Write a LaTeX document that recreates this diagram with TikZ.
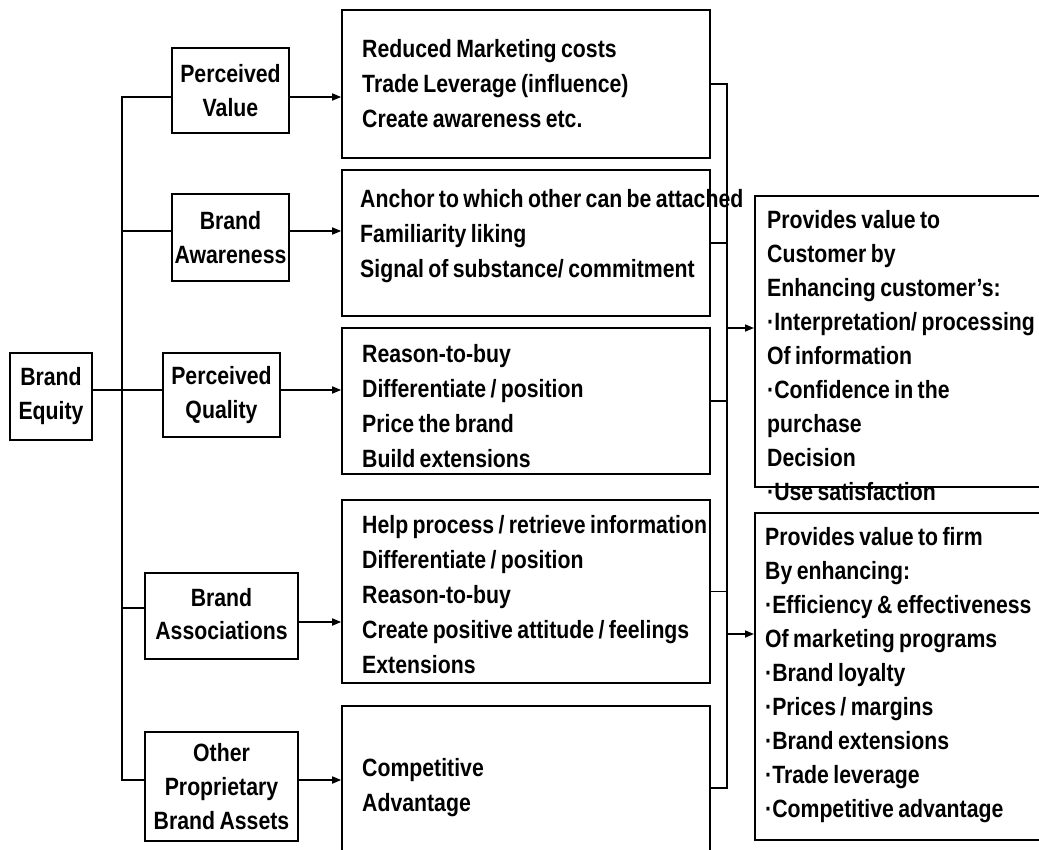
\documentclass[tikz,border=0pt]{standalone}
\usepackage{fontspec}
\setmainfont{Liberation Sans}[FakeStretch=0.85,WordSpace=0.75]
\usetikzlibrary{arrows.meta}
\begin{document}
\begin{tikzpicture}[x=1pt,y=-1pt,
  txt/.style={font=\fontsize{25}{34}\selectfont\bfseries},
  box/.style={draw, line width=1.6pt, inner sep=0pt, align=center, txt},
  mbox/.style={draw, line width=1.6pt, inner sep=0pt, minimum width=368pt},
  mtext/.style={inner sep=0pt, align=left, anchor=west, font=\fontsize{25}{35}\selectfont\bfseries},
  rtext/.style={inner sep=0pt, align=left, txt},
  ln/.style={line width=1.6pt},
  arr/.style={line width=1.6pt, -{Triangle[length=9pt,width=7pt]}}]
\useasboundingbox (0,0) rectangle (1039,849);
\clip (0,0) rectangle (1039,849);
% left boxes
\node[box, minimum width=82pt, minimum height=87pt] (be) at (51,396.5) {Brand\\Equity};
\node[box, minimum width=117pt, minimum height=85pt] (pv) at (230.5,90.5) {Perceived\\Value};
\node[box, minimum width=117pt, minimum height=87pt] (ba) at (230.5,237.5) {Brand\\Awareness};
\node[box, minimum width=117pt, minimum height=84pt] (pq) at (221.5,395) {Perceived\\Quality};
\node[box, minimum width=153pt, minimum height=86pt] (bas) at (221.5,616) {\raisebox{10pt}{\begin{tabular}{@{}c@{}}Brand\\[-1pt]Associations\end{tabular}}};
\node[box, minimum width=153pt, minimum height=109pt] (op) at (221.5,786.5) {Other\\Proprietary\\Brand Assets};
% middle boxes
\node[mbox, minimum height=148pt] (m1) at (526,84) {};
\node[mbox, minimum height=146pt] (m2) at (526,243) {};
\node[mbox, minimum height=146pt] (m3) at (526,401) {};
\node[mbox, minimum height=183pt] (m4) at (526,591.5) {};
\node[mbox, minimum height=164pt] (m5) at (526,788) {};
\node[mtext] (m1t) at (362,84) {Reduced Marketing costs\\Trade Leverage (influence)\\Create awareness etc.};
\node[mtext] (m2t) at (360,236) {Anchor to which other can be attached\\Familiarity liking\\Signal of substance/ commitment};
\node[mtext] (m3t) at (362,406) {Reason-to-buy\\Differentiate / position\\Price the brand\\Build extensions};
\node[mtext] (m4t) at (362,595) {Help process / retrieve information\\Differentiate / position\\Reason-to-buy\\Create positive attitude / feelings\\Extensions};
\node[mtext] (m5t) at (362,788) {Competitive\\Advantage};
% right boxes
\node[draw, line width=1.6pt, inner sep=0pt, minimum width=300pt, minimum height=291pt, anchor=north west] (c1) at (754,195) {};
\node[rtext, anchor=north west] (c1t) at (767,210) {Provides value to\\Customer by\\Enhancing customer’s:\\·Interpretation/ processing\\Of information\\·Confidence in the\\purchase\\Decision\\·Use satisfaction};
\node[draw, line width=1.6pt, inner sep=0pt, minimum width=300pt, minimum height=327pt, anchor=north west] (c2) at (754,512) {};
\node[rtext, anchor=north west] (c2t) at (765,527) {Provides value to firm\\By enhancing:\\·Efficiency \& effectiveness\\Of marketing programs\\·Brand loyalty\\·Prices / margins\\·Brand extensions\\·Trade leverage\\·Competitive advantage};
% left tree
\coordinate (t1) at (122,97);
\coordinate (t2) at (122,231);
\coordinate (t3) at (122,390);
\coordinate (t4) at (122,608);
\coordinate (t5) at (122,780);
\draw[ln] (t1 -| pv.west) -- (t1) -- (t5) -- (t5 -| op.west);
\draw[ln] (t2) -- (t2 -| ba.west);
\draw[ln] (t3 -| be.east) -- (t3 -| pq.west);
\draw[ln] (t4) -- (t4 -| bas.west);
% arrows left -> middle
\coordinate (a1) at (0,97);
\coordinate (a2) at (0,231);
\coordinate (a3) at (0,390);
\coordinate (a4) at (0,622);
\coordinate (a5) at (0,780);
\draw[arr] (a1 -| pv.east) -- (a1 -| m1.west);
\draw[arr] (a2 -| ba.east) -- (a2 -| m2.west);
\draw[arr] (a3 -| pq.east) -- (a3 -| m3.west);
\draw[arr] (a4 -| bas.east) -- (a4 -| m4.west);
\draw[arr] (a5 -| op.east) -- (a5 -| m5.west);
% right bus
\coordinate (bus) at (727,0);
\draw[ln] (m1.east) -- (m1.east -| bus) -- (m5.east -| bus) -- (m5.east);
\draw[ln] (m2.east) -- (m2.east -| bus);
\draw[ln] (m3.east) -- (m3.east -| bus);
\draw[ln] (m4.east) -- (m4.east -| bus);
\coordinate (r1) at (727,328);
\coordinate (r2) at (727,634);
\draw[arr] (r1) -- (r1 -| c1.west);
\draw[arr] (r2) -- (r2 -| c2.west);
\end{tikzpicture}
\end{document}
